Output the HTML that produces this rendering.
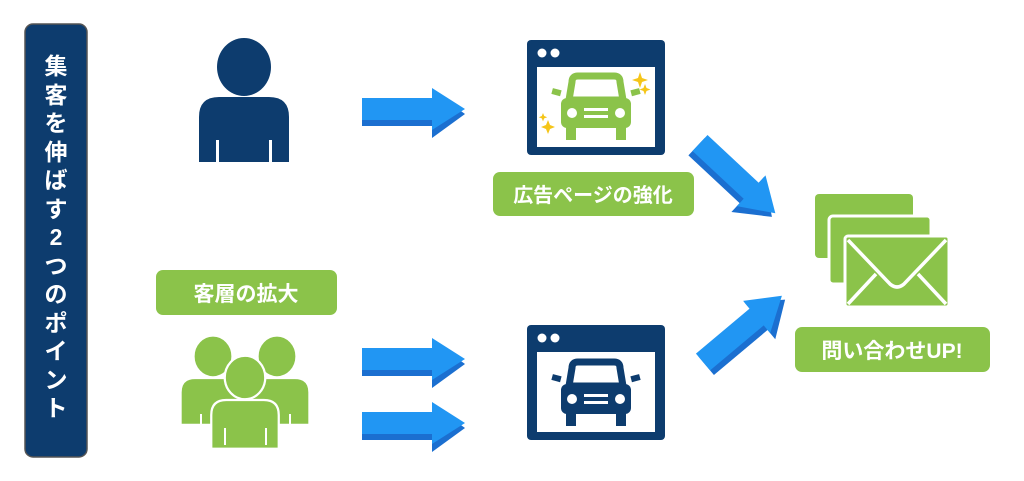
<!DOCTYPE html>
<html><head><meta charset="utf-8"><style>
html,body{margin:0;padding:0;background:#fff;}
svg{display:block;}
text{font-family:"Liberation Sans","Noto Sans CJK JP",sans-serif;font-weight:bold;}
</style></head><body>
<svg width="1024" height="481" viewBox="0 0 1024 481" xmlns="http://www.w3.org/2000/svg">
<defs>
<g id="arr">
  <polygon points="0,14 70,14 70,2 103,26 70,50 70,38 0,38" fill="#1b6fd0"/>
  <polygon points="0,10 70,10 70,0 103,21 70,42 70,32 0,32" fill="#2196f3"/>
</g>
<g id="browser">
  <rect x="0" y="0" width="138" height="115" rx="4" fill="#0d3c6e"/>
  <rect x="10" y="27" width="118" height="80" fill="#fff"/>
  <circle cx="15" cy="13" r="4.5" fill="#fff"/>
  <circle cx="28" cy="13" r="4.5" fill="#fff"/>
</g>
<g id="car">
  <path d="M-24,-30 Q-24,-36 -18,-36 L18,-36 Q24,-36 24,-30 L27,-12 L-27,-12 Z" fill="none" stroke="currentColor" stroke-width="7" stroke-linejoin="round"/>
  <rect x="-35" y="-14" width="70" height="30" rx="6" fill="currentColor"/>
  <rect x="-30" y="14" width="10" height="14" fill="currentColor"/>
  <rect x="20" y="14" width="10" height="14" fill="currentColor"/>
  <rect x="-44" y="-23" width="9" height="6" fill="currentColor" transform="rotate(15 -40 -20)"/>
  <rect x="35" y="-23" width="9" height="6" fill="currentColor" transform="rotate(-15 40 -20)"/>
  <circle cx="-24" cy="1" r="5" fill="#fff"/>
  <circle cx="24" cy="1" r="5" fill="#fff"/>
  <rect x="-12" y="-4" width="24" height="3" fill="#fff"/>
  <rect x="-12" y="3" width="24" height="3" fill="#fff"/>
</g>
<g id="person">
  <ellipse cx="0" cy="-30" rx="27" ry="29"/>
  <path d="M-45,65 L-45,20 Q-45,0 -25,0 L25,0 Q45,0 45,20 L45,65 Z"/>
</g>
</defs>

<!-- left vertical title -->
<rect x="25" y="24" width="62" height="433" rx="8" fill="#0d3c6e" stroke="#555" stroke-width="1.5"/>
<g fill="#fff" font-size="23" text-anchor="middle">
<text x="56" y="74">集</text><text x="56" y="103">客</text><text x="56" y="131">を</text>
<text x="56" y="160">伸</text><text x="56" y="188">ば</text><text x="56" y="217">す</text>
<text x="56" y="245">2</text><text x="56" y="274">つ</text><text x="56" y="302">の</text>
<text x="56" y="331">ポ</text><text x="56" y="359">イ</text><text x="56" y="388">ン</text>
<text x="56" y="416">ト</text>
</g>

<!-- top person -->
<g fill="#0d3c6e" transform="translate(244,97)"><use href="#person"/></g>
<rect x="216" y="140" width="3" height="22" fill="#fff"/>
<rect x="269" y="140" width="3" height="22" fill="#fff"/>

<!-- arrows -->
<use href="#arr" x="362" y="88"/>
<use href="#arr" x="362" y="338"/>
<use href="#arr" x="362" y="402"/>

<!-- browsers -->
<use href="#browser" x="527" y="40"/>
<g color="#8bc34a" transform="translate(596,112)"><use href="#car"/></g>
<g fill="#f5c518">
<path d="M640,72 l2,6 6,2 -6,2 -2,6 -2,-6 -6,-2 6,-2z"/>
<path d="M645,84 l1.5,4 4,1.5 -4,1.5 -1.5,4 -1.5,-4 -4,-1.5 4,-1.5z"/>
<path d="M548,120 l2,5 5,2 -5,2 -2,5 -2,-5 -5,-2 5,-2z"/>
<path d="M543,113 l1.2,3 3,1.2 -3,1.2 -1.2,3 -1.2,-3 -3,-1.2 3,-1.2z"/>
</g>
<use href="#browser" x="527" y="325"/>
<g color="#0d3c6e" transform="translate(596,398)"><use href="#car"/></g>

<!-- labels -->
<rect x="493" y="172" width="201" height="44" rx="7" fill="#8bc34a"/>
<text x="593" y="202" fill="#fff" font-size="20" text-anchor="middle">広告ページの強化</text>
<rect x="156" y="270" width="181" height="45" rx="7" fill="#8bc34a"/>
<text x="246" y="301" fill="#fff" font-size="21" text-anchor="middle">客層の拡大</text>
<rect x="795" y="327" width="195" height="45" rx="7" fill="#8bc34a"/>
<text x="892" y="358" fill="#fff" font-size="21" text-anchor="middle">問い合わせUP!</text>

<!-- diagonal arrows -->
<g transform="translate(700,143) rotate(43)"><use href="#arr" x="0" y="-21"/></g>
<g transform="translate(703,362) rotate(-40)"><use href="#arr" x="0" y="-21"/></g>

<!-- envelopes -->
<rect x="815" y="194" width="98" height="64" rx="4" fill="#8bc34a"/>
<rect x="829" y="216" width="102" height="68" rx="4" fill="#8bc34a" stroke="#fff" stroke-width="3"/>
<rect x="845" y="236" width="104" height="71" rx="3" fill="#8bc34a" stroke="#fff" stroke-width="3"/>
<path d="M848,240 L890,284 Q897,290 904,284 L946,240 M848,304 L876,274 M946,304 L918,274" fill="none" stroke="#fff" stroke-width="3.5"/>

<!-- group -->
<g fill="#8bc34a" stroke="#fff" stroke-width="3">
<g transform="translate(213,378) scale(0.72)"><use href="#person"/></g>
<g transform="translate(277,378) scale(0.72)"><use href="#person"/></g>
<g transform="translate(245,400) scale(0.75)"><use href="#person"/></g>
</g>
<rect x="200" y="414" width="2" height="15" fill="#fff"/>
<rect x="289" y="414" width="2" height="15" fill="#fff"/>
<rect x="224" y="428" width="2" height="17" fill="#fff"/>
<rect x="265" y="428" width="2" height="17" fill="#fff"/>
</svg>
</body></html>
